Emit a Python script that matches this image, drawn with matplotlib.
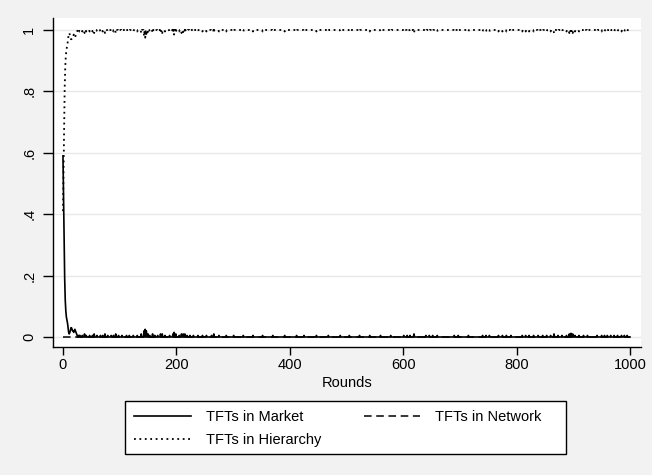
import numpy as np
import matplotlib
matplotlib.use("Agg")
import matplotlib.pyplot as plt
from matplotlib.lines import Line2D
from matplotlib.patches import Rectangle

# ---------------- data ----------------
n_rounds = 1000
rounds = np.arange(0, n_rounds + 1)

# first rounds, share of TFTs in market
market_early = [0.59, 0.45, 0.30, 0.19, 0.12, 0.085, 0.065, 0.055, 0.045, 0.03,
                0.015, 0.01, 0.015, 0.02, 0.03, 0.03, 0.025, 0.02, 0.02, 0.015,
                0.02, 0.025, 0.02, 0.015, 0.01, 0.005, 0.0, 0.005, 0.0, 0.005]
# later small spikes of the market share (round, value); elsewhere 0
market_spikes = [(30, 0.005), (34, 0.005), (38, 0.01), (41, 0.005), (47, 0.005),
                 (52, 0.005), (55, 0.01), (60, 0.005), (66, 0.005), (70, 0.005),
                 (74, 0.01), (79, 0.005), (85, 0.005), (89, 0.005), (93, 0.01),
                 (98, 0.005), (104, 0.005), (112, 0.005), (117, 0.005), (124, 0.005),
                 (131, 0.005), (138, 0.01), (143, 0.02), (145, 0.025), (147, 0.02),
                 (150, 0.01), (153, 0.005), (158, 0.01), (162, 0.005), (167, 0.005),
                 (172, 0.01), (175, 0.01), (180, 0.005), (188, 0.005), (194, 0.01),
                 (196, 0.015), (199, 0.01), (205, 0.005), (209, 0.01), (212, 0.01),
                 (215, 0.01), (219, 0.005), (224, 0.005), (230, 0.005), (238, 0.005),
                 (246, 0.005), (253, 0.005), (262, 0.005), (266, 0.01), (275, 0.005),
                 (288, 0.005), (301, 0.005), (318, 0.005), (335, 0.005), (352, 0.005),
                 (370, 0.005), (391, 0.005), (412, 0.005), (425, 0.005), (447, 0.005),
                 (468, 0.005), (489, 0.005), (505, 0.005), (523, 0.005), (541, 0.005),
                 (560, 0.005), (578, 0.005), (601, 0.005), (607, 0.005), (612, 0.005),
                 (619, 0.01), (640, 0.005), (646, 0.005), (652, 0.005), (660, 0.005),
                 (690, 0.005), (697, 0.005), (715, 0.005), (740, 0.005), (746, 0.005),
                 (752, 0.005), (768, 0.005), (775, 0.005), (782, 0.005), (790, 0.005),
                 (810, 0.005), (816, 0.005), (822, 0.005), (830, 0.005), (838, 0.005),
                 (846, 0.005), (853, 0.005), (860, 0.005), (866, 0.01), (873, 0.005),
                 (880, 0.005), (888, 0.005), (893, 0.01), (896, 0.012), (899, 0.01),
                 (903, 0.005), (910, 0.005), (918, 0.005), (925, 0.005), (942, 0.005),
                 (950, 0.005), (955, 0.005), (960, 0.005), (966, 0.005), (972, 0.005),
                 (978, 0.005), (985, 0.005), (990, 0.005), (995, 0.005)]

# first rounds, share of TFTs in hierarchy
hier_early = [0.41, 0.55, 0.70, 0.81, 0.88, 0.915, 0.935, 0.945, 0.955, 0.97,
              0.985, 0.99, 0.985, 0.98, 0.97, 0.97, 0.975, 0.98, 0.98, 0.985,
              0.98, 0.975, 0.98, 0.985, 0.99, 0.995, 1.0, 0.995, 1.0, 0.995]
# later small dips of the hierarchy share (round, value); elsewhere 1
hier_dips = [(30, 0.995), (34, 0.995), (38, 0.99), (41, 0.995), (47, 0.995),
             (52, 0.995), (55, 0.99), (60, 0.995), (66, 0.995), (70, 0.995),
             (74, 0.99), (79, 0.995), (85, 0.995), (89, 0.995), (93, 0.99),
             (98, 0.995), (104, 0.995), (112, 0.995), (117, 0.995), (124, 0.995),
             (131, 0.995), (138, 0.99), (143, 0.98), (145, 0.975), (147, 0.98),
             (150, 0.99), (153, 0.995), (158, 0.99), (162, 0.995), (167, 0.995),
             (172, 0.99), (175, 0.99), (180, 0.995), (188, 0.995), (194, 0.99),
             (196, 0.985), (199, 0.99), (205, 0.995), (209, 0.99), (212, 0.99),
             (215, 0.99), (219, 0.995), (224, 0.995), (230, 0.995), (238, 0.995),
             (246, 0.995), (253, 0.995), (262, 0.995), (266, 0.99), (275, 0.995),
             (288, 0.995), (301, 0.995), (318, 0.995), (335, 0.995), (352, 0.995),
             (370, 0.995), (391, 0.995), (412, 0.995), (425, 0.995), (447, 0.995),
             (468, 0.995), (489, 0.995), (505, 0.995), (523, 0.995), (541, 0.995),
             (560, 0.995), (578, 0.995), (601, 0.995), (607, 0.995), (612, 0.995),
             (619, 0.99), (640, 0.995), (646, 0.995), (652, 0.995), (660, 0.995),
             (690, 0.995), (697, 0.995), (715, 0.995), (740, 0.995), (746, 0.995),
             (752, 0.995), (768, 0.995), (775, 0.995), (782, 0.995), (790, 0.995),
             (810, 0.995), (816, 0.995), (822, 0.995), (830, 0.995), (838, 0.995),
             (846, 0.995), (853, 0.995), (860, 0.995), (866, 0.99), (873, 0.995),
             (880, 0.995), (888, 0.995), (893, 0.99), (896, 0.988), (899, 0.99),
             (903, 0.995), (910, 0.995), (918, 0.995), (925, 0.995), (942, 0.995),
             (950, 0.995), (955, 0.995), (960, 0.995), (966, 0.995), (972, 0.995),
             (978, 0.995), (985, 0.995), (990, 0.995), (995, 0.995)]

network_level = 0.0  # TFTs in network stay at 0 throughout

x_ticks = [0, 200, 400, 600, 800, 1000]
y_ticks = [0, 0.2, 0.4, 0.6, 0.8, 1.0]
y_tick_labels = ["0", ".2", ".4", ".6", ".8", "1"]
labels = ["TFTs in Market", "TFTs in Network", "TFTs in Hierarchy"]

# ---------------- build series ----------------
market = np.zeros(len(rounds))
market[:len(market_early)] = market_early
for r, v in market_spikes:
    market[r] = v

hierarchy = np.ones(len(rounds))
hierarchy[:len(hier_early)] = hier_early
for r, v in hier_dips:
    hierarchy[r] = v

network = np.full(len(rounds), network_level)

# ---------------- plot ----------------
plt.rcParams['font.family'] = ['Liberation Sans', 'DejaVu Sans']
FS = 10.5
W, H = 652, 475
fig = plt.figure(figsize=(W / 100, H / 100), dpi=100)
fig.patch.set_facecolor('#f2f2f2')

ax = fig.add_axes([53 / W, 1 - 347 / H, (641 - 53) / W, (347 - 18) / H])
ax.set_facecolor('white')

ax.plot(rounds, network, color='black', lw=1.1, ls=(0, (5, 3)))
ax.plot(rounds, market, color='black', lw=1.2, ls='-')
ax.plot(rounds, hierarchy, color='black', lw=1.3, ls=(0, (1, 2)))

ax.set_xlim(-17.6, 1019.4)
ax.set_ylim(-0.0326, 1.039)
ax.set_xticks(x_ticks)
ax.set_yticks(y_ticks)
ax.set_yticklabels(y_tick_labels, rotation=90, va='center')
ax.grid(axis='y', color='#e8e8e8', lw=1.0)
ax.set_axisbelow(True)
for s in ['top', 'right']:
    ax.spines[s].set_visible(False)
for s in ['left', 'bottom']:
    ax.spines[s].set_linewidth(1.0)
    ax.spines[s].set_color('black')
ax.tick_params(axis='x', length=6, width=1.0, labelsize=FS, pad=2, color='black')
ax.tick_params(axis='y', length=7, width=1.0, labelsize=FS, pad=5, color='black')
ax.set_xlabel('Rounds', fontsize=FS, labelpad=3)

# legend box (Stata style, wide frame)
fig.patches.append(Rectangle((125 / W, 1 - 454 / H), (566 - 125) / W, (454 - 401) / H,
                             transform=fig.transFigure, facecolor='white',
                             edgecolor='black', lw=1.0, zorder=1))

handles = [Line2D([], [], color='black', lw=1.2, ls='-'),
           Line2D([], [], color='black', lw=1.3, ls=(0, (1, 2))),
           Line2D([], [], color='black', lw=1.1, ls=(0, (5, 3)))]
leg_labels = [labels[0], labels[2], labels[1]]
leg = fig.legend(handles, leg_labels, ncol=2, loc='upper left',
                 bbox_to_anchor=(125 / W, 1 - 401 / H), frameon=False,
                 fontsize=FS, handlelength=3.9, handletextpad=1.03,
                 columnspacing=2.9, labelspacing=0.64, borderpad=0.62,
                 borderaxespad=0)
leg.set_zorder(2)

fig.savefig('out.png', dpi=100, facecolor=fig.get_facecolor())
